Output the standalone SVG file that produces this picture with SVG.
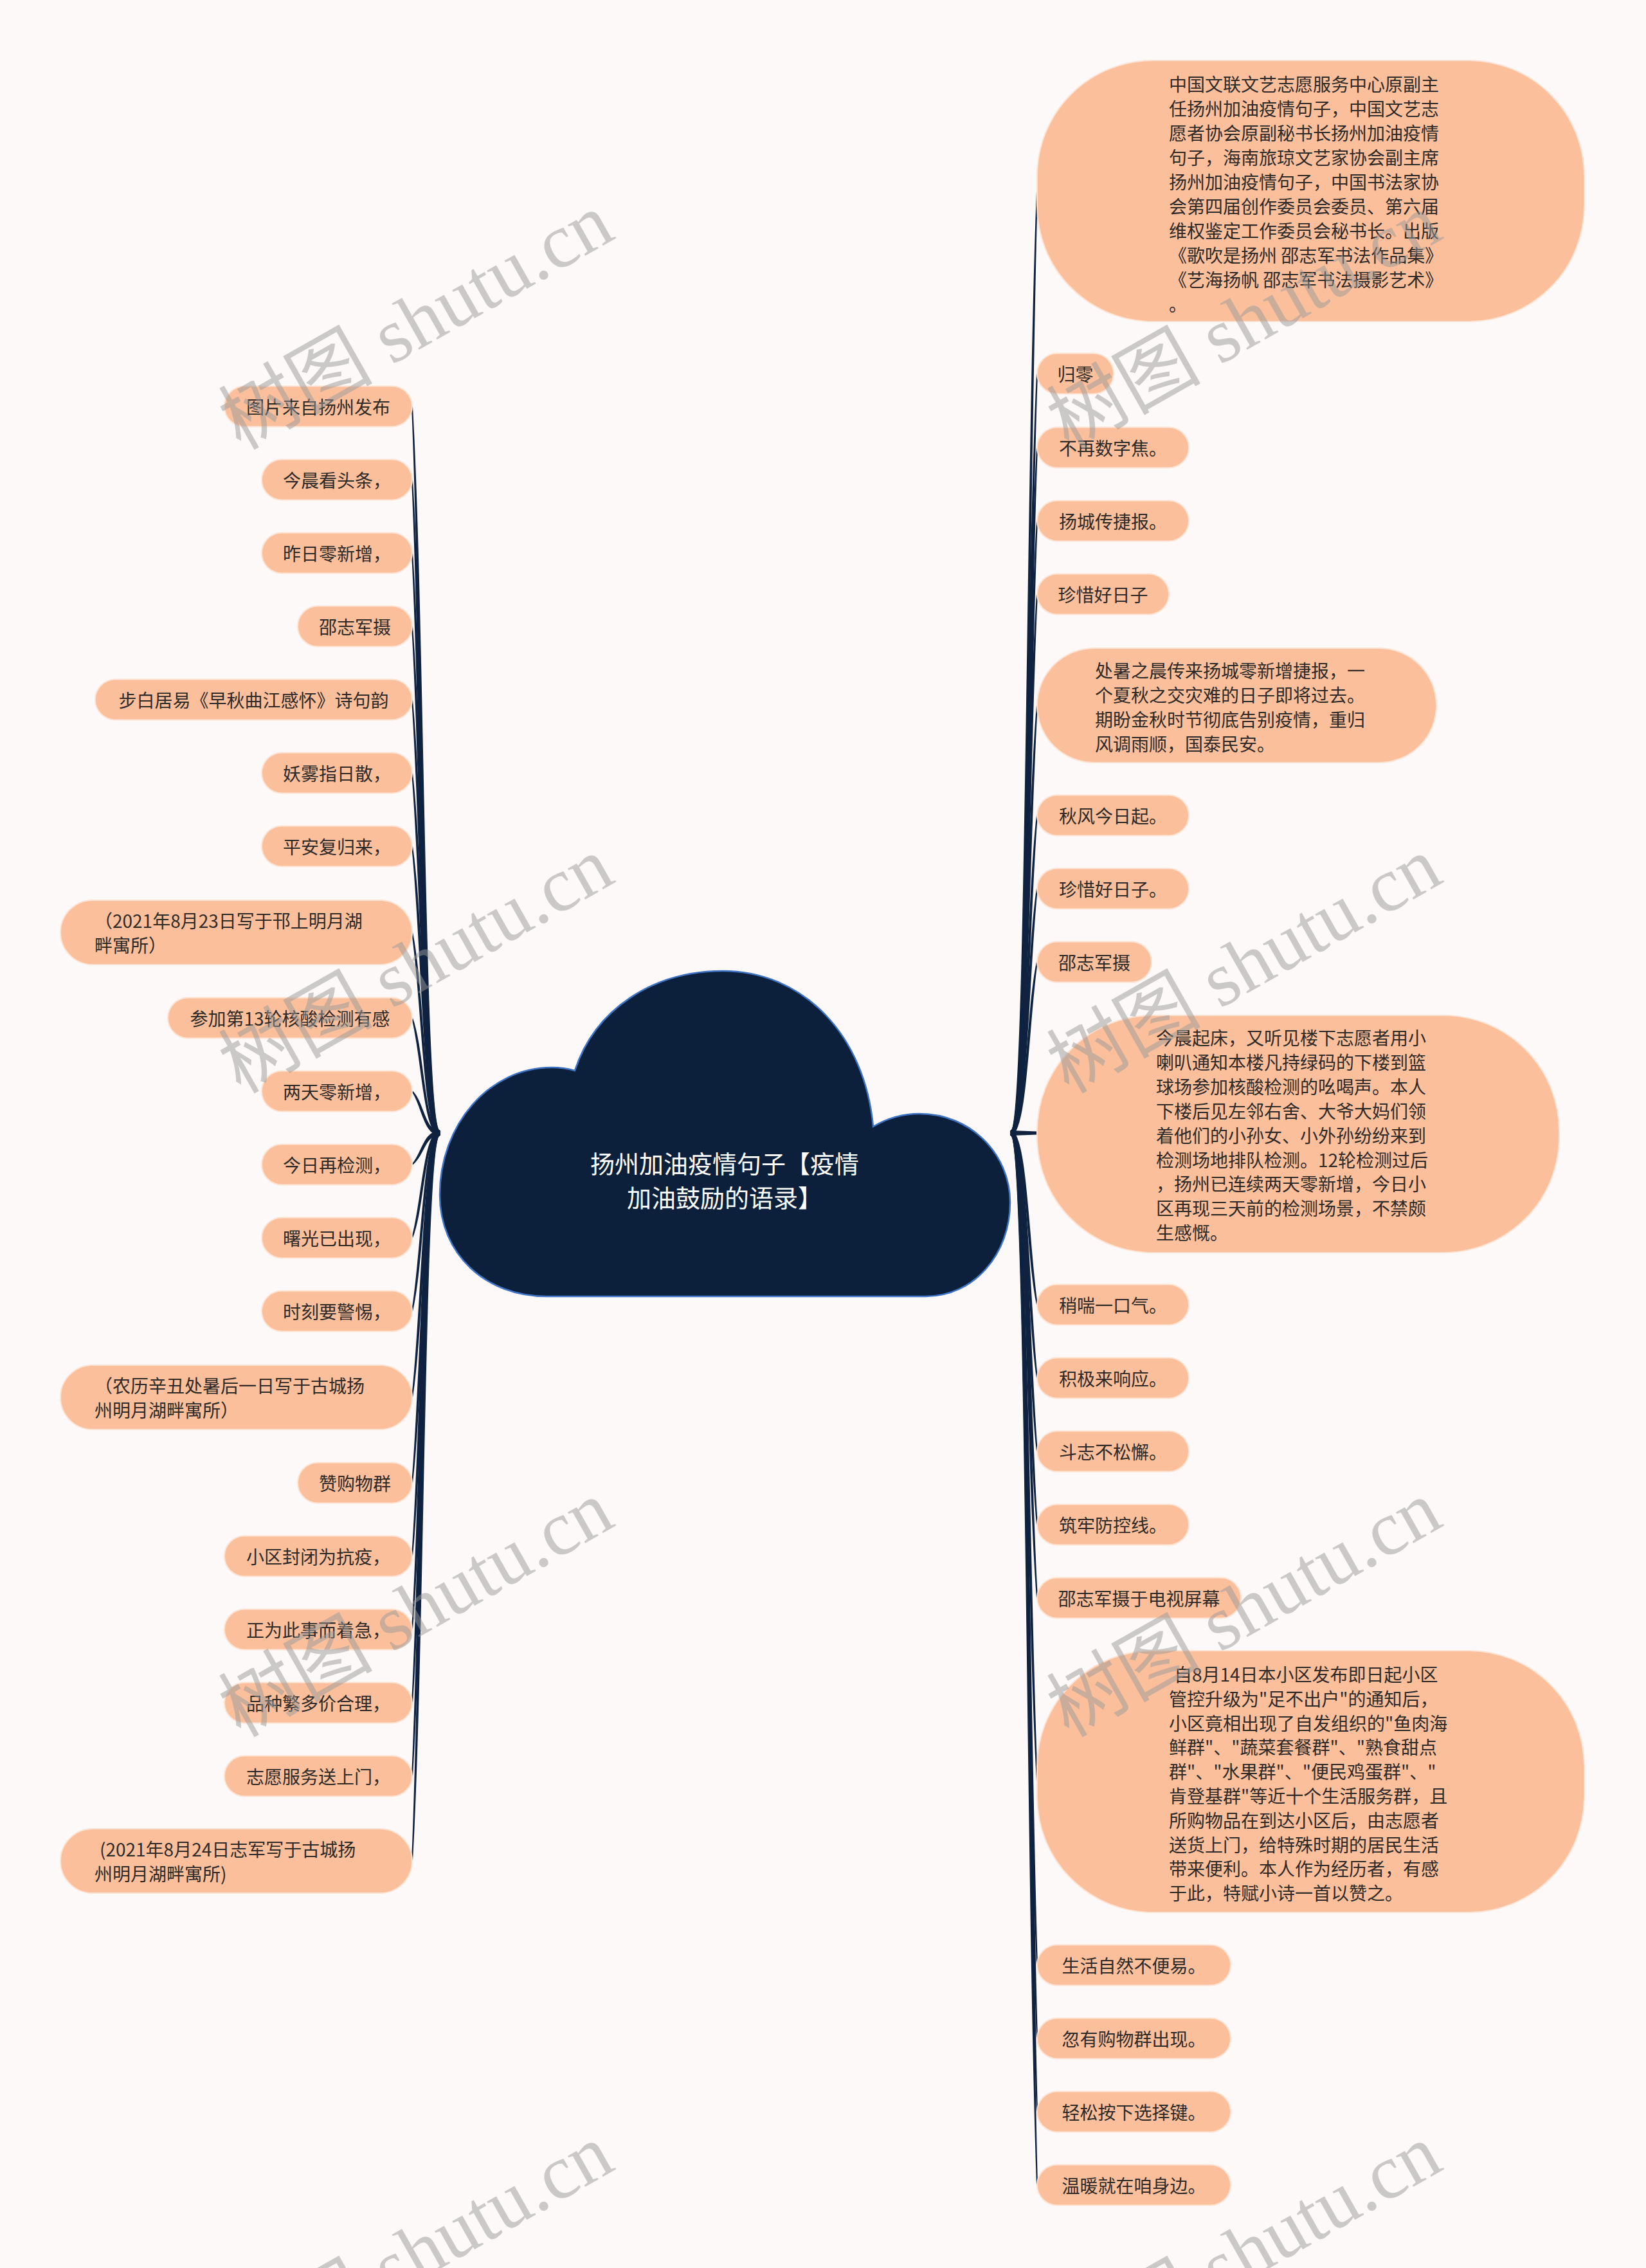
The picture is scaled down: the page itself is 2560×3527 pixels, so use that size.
<svg xmlns="http://www.w3.org/2000/svg" width="2560" height="3527" viewBox="0 0 2560 3527">
<style>
.bg{fill:#fcf9f8}
.n rect{fill:#fbbf9c;stroke:#fde3d3;stroke-width:2}
.t{font-family:"Noto Sans CJK SC","Noto Sans",sans-serif;font-size:28px;fill:#2e2a28;dominant-baseline:central}
.m{text-anchor:middle}
.title{font-family:"Noto Sans CJK SC","Noto Sans",sans-serif;font-size:38px;fill:#ffffff;text-anchor:middle;dominant-baseline:central}
#connectors path{fill:#0f2240;stroke:#0f2240;stroke-width:2;stroke-linejoin:round}
.wm{font-family:"Liberation Serif","Noto Sans CJK SC",serif;font-size:120px;fill:#9a9a9a;opacity:0.5;text-anchor:middle;dominant-baseline:central}
</style>
<rect class="bg" x="0" y="0" width="2560" height="3527"/>
<g id="connectors">
<path d="M1572 1759C1597 1759 1596 736.5 1613 297C1600 736.5 1597 1765 1572 1765Z"/>
<path d="M1572 1759C1597 1759 1596 935.3 1613 581C1600 935.3 1597 1765 1572 1765Z"/>
<path d="M1572 1759C1597 1759 1596 1015.8 1613 696C1600 1015.8 1597 1765 1572 1765Z"/>
<path d="M1572 1759C1597 1759 1596 1095.6 1613 810C1600 1095.6 1597 1765 1572 1765Z"/>
<path d="M1572 1759C1597 1759 1596 1175.4 1613 924C1600 1175.4 1597 1765 1572 1765Z"/>
<path d="M1572 1759C1597 1759 1596 1296.5 1613 1097C1600 1296.5 1597 1765 1572 1765Z"/>
<path d="M1572 1759C1597 1759 1596 1416.2 1613 1268C1600 1416.2 1597 1765 1572 1765Z"/>
<path d="M1572 1759C1597 1759 1596 1496 1613 1382C1600 1496 1597 1765 1572 1765Z"/>
<path d="M1572 1759C1597 1759 1596 1575.8 1613 1496C1600 1575.8 1597 1765 1572 1765Z"/>
<path d="M1572 1759L1613 1760.5L1613 1763.5L1572 1765Z"/>
<path d="M1572 1759C1597 1759 1600 1948.9 1613 2029C1596 1948.9 1597 1765 1572 1765Z"/>
<path d="M1572 1759C1597 1759 1600 2028.7 1613 2143C1596 2028.7 1597 1765 1572 1765Z"/>
<path d="M1572 1759C1597 1759 1600 2108.5 1613 2257C1596 2108.5 1597 1765 1572 1765Z"/>
<path d="M1572 1759C1597 1759 1600 2188.3 1613 2371C1596 2188.3 1597 1765 1572 1765Z"/>
<path d="M1572 1759C1597 1759 1600 2268.1 1613 2485C1596 2268.1 1597 1765 1572 1765Z"/>
<path d="M1572 1759C1597 1759 1600 2467.6 1613 2770C1596 2467.6 1597 1765 1572 1765Z"/>
<path d="M1572 1759C1597 1759 1600 2667.8 1613 3056C1596 2667.8 1597 1765 1572 1765Z"/>
<path d="M1572 1759C1597 1759 1600 2747.6 1613 3170C1596 2747.6 1597 1765 1572 1765Z"/>
<path d="M1572 1759C1597 1759 1600 2827.4 1613 3284C1596 2827.4 1597 1765 1572 1765Z"/>
<path d="M1572 1759C1597 1759 1600 2907.2 1613 3398C1596 2907.2 1597 1765 1572 1765Z"/>
<path d="M684 1759C659 1759 660 971 641 632C656 971 659 1765 684 1765Z"/>
<path d="M684 1759C659 1759 660 1050.8 641 746C656 1050.8 659 1765 684 1765Z"/>
<path d="M684 1759C659 1759 660 1130.6 641 860C656 1130.6 659 1765 684 1765Z"/>
<path d="M684 1759C659 1759 660 1210.4 641 974C656 1210.4 659 1765 684 1765Z"/>
<path d="M684 1759C659 1759 660 1290.2 641 1088C656 1290.2 659 1765 684 1765Z"/>
<path d="M684 1759C659 1759 660 1370 641 1202C656 1370 659 1765 684 1765Z"/>
<path d="M684 1759C659 1759 660 1449.8 641 1316C656 1449.8 659 1765 684 1765Z"/>
<path d="M684 1759C659 1759 660 1543.6 641 1450C656 1543.6 659 1765 684 1765Z"/>
<path d="M684 1759C659 1759 660 1636.7 641 1583C656 1636.7 659 1765 684 1765Z"/>
<path d="M684 1759C659 1759 660 1716.5 641 1697C656 1716.5 659 1765 684 1765Z"/>
<path d="M684 1759C659 1759 656 1796.3 641 1811C660 1796.3 659 1765 684 1765Z"/>
<path d="M684 1759C659 1759 656 1876.1 641 1925C660 1876.1 659 1765 684 1765Z"/>
<path d="M684 1759C659 1759 656 1955.9 641 2039C660 1955.9 659 1765 684 1765Z"/>
<path d="M684 1759C659 1759 656 2049.7 641 2173C660 2049.7 659 1765 684 1765Z"/>
<path d="M684 1759C659 1759 656 2142.8 641 2306C660 2142.8 659 1765 684 1765Z"/>
<path d="M684 1759C659 1759 656 2222.6 641 2420C660 2222.6 659 1765 684 1765Z"/>
<path d="M684 1759C659 1759 656 2302.4 641 2534C660 2302.4 659 1765 684 1765Z"/>
<path d="M684 1759C659 1759 656 2382.2 641 2648C660 2382.2 659 1765 684 1765Z"/>
<path d="M684 1759C659 1759 656 2462 641 2762C660 2462 659 1765 684 1765Z"/>
<path d="M684 1759C659 1759 656 2554.4 641 2894C660 2554.4 659 1765 684 1765Z"/>
</g>
<g id="root">
<path d="M850 2016C755 2016 684 1950 684 1858C684 1750 760 1660 858 1660C872 1660 884 1662 894 1665C925 1570 1015 1510 1124 1510C1250 1510 1345 1610 1358 1752C1380 1739 1404 1732 1430 1732C1510 1732 1571 1795 1571 1870C1571 1950 1515 2016 1440 2016Z" fill="#0c1f3b" stroke="#3f74c4" stroke-width="2.5"/>
<text class="title"><tspan x="1127" y="1807">扬州加油疫情句子【疫情</tspan><tspan x="1127" y="1860">加油鼓励的语录】</tspan></text>
</g>
<g id="r1" class="n"><rect x="1613" y="94" width="851" height="406" rx="180"/>
<text class="t"><tspan x="1818" y="130">中国文联文艺志愿服务中心原副主</tspan><tspan x="1818" y="168">任扬州加油疫情句子，中国文艺志</tspan><tspan x="1818" y="206">愿者协会原副秘书长扬州加油疫情</tspan><tspan x="1818" y="244">句子，海南旅琼文艺家协会副主席</tspan><tspan x="1818" y="282">扬州加油疫情句子，中国书法家协</tspan><tspan x="1818" y="320">会第四届创作委员会委员、第六届</tspan><tspan x="1818" y="358">维权鉴定工作委员会秘书长。出版</tspan><tspan x="1818" y="396">《歌吹是扬州 邵志军书法作品集》</tspan><tspan x="1818" y="434">《艺海扬帆 邵志军书法摄影艺术》</tspan><tspan x="1818" y="472">。</tspan></text></g>
<g id="r2" class="n"><rect x="1613" y="549.5" width="119" height="63" rx="31.5"/><text class="t m" x="1672.5" y="581">归零</text></g>
<g id="r3" class="n"><rect x="1613" y="664.5" width="236" height="63" rx="31.5"/><text class="t m" x="1731" y="696">不再数字焦。</text></g>
<g id="r4" class="n"><rect x="1613" y="778.5" width="236" height="63" rx="31.5"/><text class="t m" x="1731" y="810">扬城传捷报。</text></g>
<g id="r5" class="n"><rect x="1613" y="892.5" width="205" height="63" rx="31.5"/><text class="t m" x="1715.5" y="924">珍惜好日子</text></g>
<g id="r6" class="n"><rect x="1613" y="1008" width="621" height="178" rx="89"/>
<text class="t"><tspan x="1703" y="1042">处暑之晨传来扬城零新增捷报，一</tspan><tspan x="1703" y="1080">个夏秋之交灾难的日子即将过去。</tspan><tspan x="1703" y="1118">期盼金秋时节彻底告别疫情，重归</tspan><tspan x="1703" y="1156">风调雨顺，国泰民安。</tspan></text></g>
<g id="r7" class="n"><rect x="1613" y="1236.5" width="236" height="63" rx="31.5"/><text class="t m" x="1731" y="1268">秋风今日起。</text></g>
<g id="r8" class="n"><rect x="1613" y="1350.5" width="236" height="63" rx="31.5"/><text class="t m" x="1731" y="1382">珍惜好日子。</text></g>
<g id="r9" class="n"><rect x="1613" y="1464.5" width="178" height="63" rx="31.5"/><text class="t m" x="1702" y="1496">邵志军摄</text></g>
<g id="r10" class="n"><rect x="1613" y="1579" width="812" height="369" rx="180"/>
<text class="t"><tspan x="1798" y="1613">今晨起床，又听见楼下志愿者用小</tspan><tspan x="1798" y="1651">喇叭通知本楼凡持绿码的下楼到篮</tspan><tspan x="1798" y="1689">球场参加核酸检测的吆喝声。本人</tspan><tspan x="1798" y="1727">下楼后见左邻右舍、大爷大妈们领</tspan><tspan x="1798" y="1765">着他们的小孙女、小外孙纷纷来到</tspan><tspan x="1798" y="1803">检测场地排队检测。12轮检测过后</tspan><tspan x="1798" y="1840">，扬州已连续两天零新增，今日小</tspan><tspan x="1798" y="1878">区再现三天前的检测场景，不禁颇</tspan><tspan x="1798" y="1916">生感慨。</tspan></text></g>
<g id="r11" class="n"><rect x="1613" y="1997.5" width="236" height="63" rx="31.5"/><text class="t m" x="1731" y="2029">稍喘一口气。</text></g>
<g id="r12" class="n"><rect x="1613" y="2111.5" width="236" height="63" rx="31.5"/><text class="t m" x="1731" y="2143">积极来响应。</text></g>
<g id="r13" class="n"><rect x="1613" y="2225.5" width="236" height="63" rx="31.5"/><text class="t m" x="1731" y="2257">斗志不松懈。</text></g>
<g id="r14" class="n"><rect x="1613" y="2339.5" width="236" height="63" rx="31.5"/><text class="t m" x="1731" y="2371">筑牢防控线。</text></g>
<g id="r15" class="n"><rect x="1613" y="2453.5" width="317" height="63" rx="31.5"/><text class="t m" x="1771.5" y="2485">邵志军摄于电视屏幕</text></g>
<g id="r16" class="n"><rect x="1613" y="2567" width="851" height="407" rx="180"/>
<text class="t"><tspan x="1826" y="2603">自8月14日本小区发布即日起小区</tspan><tspan x="1818" y="2641">管控升级为"足不出户"的通知后，</tspan><tspan x="1818" y="2679">小区竟相出现了自发组织的"鱼肉海</tspan><tspan x="1818" y="2716">鲜群"、"蔬菜套餐群"、"熟食甜点</tspan><tspan x="1818" y="2754">群"、"水果群"、"便民鸡蛋群"、"</tspan><tspan x="1818" y="2792">肯登基群"等近十个生活服务群，且</tspan><tspan x="1818" y="2830">所购物品在到达小区后，由志愿者</tspan><tspan x="1818" y="2868">送货上门，给特殊时期的居民生活</tspan><tspan x="1818" y="2905">带来便利。本人作为经历者，有感</tspan><tspan x="1818" y="2943">于此，特赋小诗一首以赞之。</tspan></text></g>
<g id="r17" class="n"><rect x="1613" y="3024.5" width="301" height="63" rx="31.5"/><text class="t m" x="1763.5" y="3056">生活自然不便易。</text></g>
<g id="r18" class="n"><rect x="1613" y="3138.5" width="301" height="63" rx="31.5"/><text class="t m" x="1763.5" y="3170">忽有购物群出现。</text></g>
<g id="r19" class="n"><rect x="1613" y="3252.5" width="301" height="63" rx="31.5"/><text class="t m" x="1763.5" y="3284">轻松按下选择键。</text></g>
<g id="r20" class="n"><rect x="1613" y="3366.5" width="301" height="63" rx="31.5"/><text class="t m" x="1763.5" y="3398">温暖就在咱身边。</text></g>
<g id="l1" class="n"><rect x="349" y="600.5" width="292" height="63" rx="31.5"/><text class="t m" x="495" y="632">图片来自扬州发布</text></g>
<g id="l2" class="n"><rect x="407" y="714.5" width="234" height="63" rx="31.5"/><text class="t m" x="524" y="746">今晨看头条，</text></g>
<g id="l3" class="n"><rect x="407" y="828.5" width="234" height="63" rx="31.5"/><text class="t m" x="524" y="860">昨日零新增，</text></g>
<g id="l4" class="n"><rect x="463" y="942.5" width="178" height="63" rx="31.5"/><text class="t m" x="552" y="974">邵志军摄</text></g>
<g id="l5" class="n"><rect x="148" y="1056.5" width="493" height="63" rx="31.5"/><text class="t m" x="394.5" y="1088">步白居易《早秋曲江感怀》诗句韵</text></g>
<g id="l6" class="n"><rect x="407" y="1170.5" width="234" height="63" rx="31.5"/><text class="t m" x="524" y="1202">妖雾指日散，</text></g>
<g id="l7" class="n"><rect x="407" y="1284.5" width="234" height="63" rx="31.5"/><text class="t m" x="524" y="1316">平安复归来，</text></g>
<g id="l8" class="n"><rect x="94" y="1400" width="547" height="100" rx="50"/><text class="t"><tspan x="147" y="1431">（2021年8月23日写于邗上明月湖</tspan><tspan x="147" y="1469">畔寓所）</tspan></text></g>
<g id="l9" class="n"><rect x="261" y="1551.5" width="380" height="63" rx="31.5"/><text class="t m" x="451" y="1583">参加第13轮核酸检测有感</text></g>
<g id="l10" class="n"><rect x="407" y="1665.5" width="234" height="63" rx="31.5"/><text class="t m" x="524" y="1697">两天零新增，</text></g>
<g id="l11" class="n"><rect x="407" y="1779.5" width="234" height="63" rx="31.5"/><text class="t m" x="524" y="1811">今日再检测，</text></g>
<g id="l12" class="n"><rect x="407" y="1893.5" width="234" height="63" rx="31.5"/><text class="t m" x="524" y="1925">曙光已出现，</text></g>
<g id="l13" class="n"><rect x="407" y="2007.5" width="234" height="63" rx="31.5"/><text class="t m" x="524" y="2039">时刻要警惕，</text></g>
<g id="l14" class="n"><rect x="94" y="2123" width="547" height="100" rx="50"/><text class="t"><tspan x="147" y="2154">（农历辛丑处暑后一日写于古城扬</tspan><tspan x="147" y="2192">州明月湖畔寓所）</tspan></text></g>
<g id="l15" class="n"><rect x="463" y="2274.5" width="178" height="63" rx="31.5"/><text class="t m" x="552" y="2306">赞购物群</text></g>
<g id="l16" class="n"><rect x="349" y="2388.5" width="292" height="63" rx="31.5"/><text class="t m" x="495" y="2420">小区封闭为抗疫，</text></g>
<g id="l17" class="n"><rect x="349" y="2502.5" width="292" height="63" rx="31.5"/><text class="t m" x="495" y="2534">正为此事而着急，</text></g>
<g id="l18" class="n"><rect x="349" y="2616.5" width="292" height="63" rx="31.5"/><text class="t m" x="495" y="2648">品种繁多价合理，</text></g>
<g id="l19" class="n"><rect x="349" y="2730.5" width="292" height="63" rx="31.5"/><text class="t m" x="495" y="2762">志愿服务送上门，</text></g>
<g id="l20" class="n"><rect x="94" y="2844" width="547" height="100" rx="50"/><text class="t"><tspan x="155" y="2875">(2021年8月24日志军写于古城扬</tspan><tspan x="147" y="2913">州明月湖畔寓所)</tspan></text></g>
<g id="watermarks">
<text class="wm" x="647" y="500" transform="rotate(-29.5 647 500)">树图 shutu.cn</text>
<text class="wm" x="1935" y="500" transform="rotate(-29.5 1935 500)">树图 shutu.cn</text>
<text class="wm" x="647" y="1501" transform="rotate(-29.5 647 1501)">树图 shutu.cn</text>
<text class="wm" x="1935" y="1501" transform="rotate(-29.5 1935 1501)">树图 shutu.cn</text>
<text class="wm" x="647" y="2502" transform="rotate(-29.5 647 2502)">树图 shutu.cn</text>
<text class="wm" x="1935" y="2502" transform="rotate(-29.5 1935 2502)">树图 shutu.cn</text>
<text class="wm" x="647" y="3503" transform="rotate(-29.5 647 3503)">树图 shutu.cn</text>
<text class="wm" x="1935" y="3503" transform="rotate(-29.5 1935 3503)">树图 shutu.cn</text>
</g>
</svg>
